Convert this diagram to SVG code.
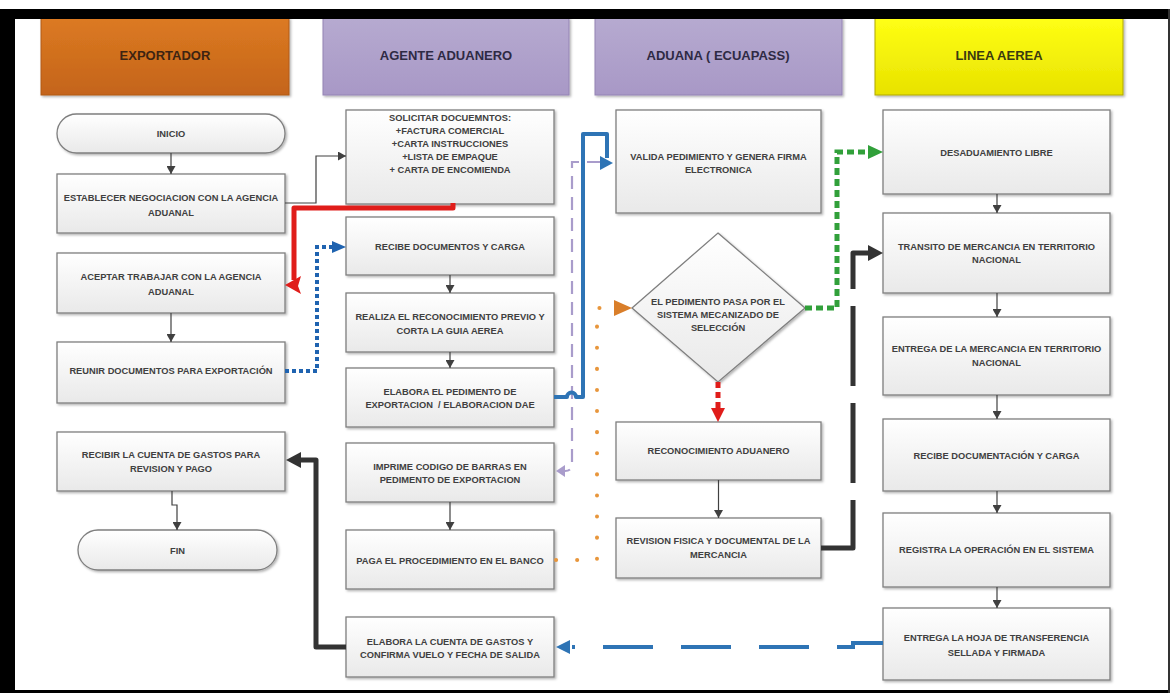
<svg xmlns="http://www.w3.org/2000/svg" width="1170" height="693" viewBox="0 0 1170 693">
<defs>
<linearGradient id="gBox" x1="0" y1="0" x2="0" y2="1"><stop offset="0" stop-color="#ffffff"/><stop offset="1" stop-color="#e9e9e9"/></linearGradient>
<linearGradient id="gOr" x1="0" y1="0" x2="0" y2="1"><stop offset="0" stop-color="#dc7a22"/><stop offset="1" stop-color="#c4641a"/></linearGradient>
<linearGradient id="gLav" x1="0" y1="0" x2="0" y2="1"><stop offset="0" stop-color="#b6aad0"/><stop offset="1" stop-color="#a898c6"/></linearGradient>
<linearGradient id="gYel" x1="0" y1="0" x2="0" y2="1"><stop offset="0" stop-color="#ffff14"/><stop offset="1" stop-color="#e8e200"/></linearGradient>
<filter id="sh" x="-10%" y="-10%" width="120%" height="130%"><feDropShadow dx="1.5" dy="1.5" stdDeviation="1" flood-color="#000" flood-opacity="0.3"/></filter>
<marker id="ah" markerUnits="userSpaceOnUse" markerWidth="9" markerHeight="9" refX="8" refY="4.5" orient="auto"><path d="M0,0 L8,4.5 L0,9 z" fill="#404040"/></marker>
<style>
.box{fill:url(#gBox);stroke:#7f7f7f;stroke-width:1.3;filter:url(#sh)}
.hd{stroke-width:1;filter:url(#sh)}
.t{font-family:"Liberation Sans",Arial,sans-serif;font-size:9.3px;font-weight:bold;fill:#404040;text-anchor:middle}
.h{font-family:"Liberation Sans",Arial,sans-serif;font-size:13px;font-weight:bold;text-anchor:middle}
.thin{fill:none;stroke:#404040;stroke-width:1.2;marker-end:url(#ah)}
</style>
</defs>
<rect x="0" y="0" width="1170" height="693" fill="#ffffff"/>

<g id="headers">
<g id="h-exportador"><rect class="hd" x="41" y="18" width="248" height="77" fill="url(#gOr)" stroke="#b05a18"/><text class="h" x="165" y="60" fill="#3d2412">EXPORTADOR</text></g>
<g id="h-agente"><rect class="hd" x="323" y="18" width="246" height="77" fill="url(#gLav)" stroke="#9484b4"/><text class="h" x="446" y="60" fill="#2e2a44">AGENTE ADUANERO</text></g>
<g id="h-aduana"><rect class="hd" x="595" y="18" width="247" height="77" fill="url(#gLav)" stroke="#9484b4"/><text class="h" x="718" y="60" fill="#2e2a44">ADUANA ( ECUAPASS)</text></g>
<g id="h-linea"><rect class="hd" x="875" y="18" width="248" height="77" fill="url(#gYel)" stroke="#b0a800"/><text class="h" x="999" y="60" fill="#3a3a10">LINEA AEREA</text></g>
</g>

<g id="n-inicio"><rect class="box" x="57" y="114" width="228" height="39" rx="19.5"/><text class="t" x="171" y="137">INICIO</text></g>
<g id="n-establecer"><rect class="box" x="57" y="174" width="228" height="59"/><text class="t" x="171" y="200.5">ESTABLECER NEGOCIACION CON LA AGENCIA</text><text class="t" x="171" y="215.5">ADUANAL</text></g>
<g id="n-aceptar"><rect class="box" x="57" y="253" width="228" height="60"/><text class="t" x="171" y="279.5">ACEPTAR TRABAJAR CON LA AGENCIA</text><text class="t" x="171" y="294.5">ADUANAL</text></g>
<g id="n-reunir"><rect class="box" x="57" y="342" width="228" height="61"/><text class="t" x="171" y="374">REUNIR DOCUMENTOS PARA EXPORTACIÓN</text></g>
<g id="n-recibir"><rect class="box" x="57" y="432" width="228" height="59"/><text class="t" x="171" y="458">RECIBIR LA CUENTA DE GASTOS PARA</text><text class="t" x="171" y="472">REVISION Y PAGO</text></g>
<g id="n-fin"><rect class="box" x="78" y="530" width="199" height="40" rx="20"/><text class="t" x="177.5" y="553.5">FIN</text></g>

<g id="n-solicitar"><rect class="box" x="346" y="110" width="208" height="94"/>
<text class="t" x="450" y="121">SOLICITAR DOCUEMNTOS:</text>
<text class="t" x="450" y="134">+FACTURA COMERCIAL</text>
<text class="t" x="450" y="147">+CARTA INSTRUCCIONES</text>
<text class="t" x="450" y="160">+LISTA DE EMPAQUE</text>
<text class="t" x="450" y="173">+ CARTA DE ENCOMIENDA</text></g>
<g id="n-recibe-docs"><rect class="box" x="346" y="217" width="208" height="58"/><text class="t" x="450" y="250">RECIBE DOCUMENTOS Y CARGA</text></g>
<g id="n-realiza"><rect class="box" x="346" y="293" width="208" height="59"/><text class="t" x="450" y="319.5">REALIZA EL RECONOCIMIENTO PREVIO Y</text><text class="t" x="450" y="333.5">CORTA LA GUIA AEREA</text></g>
<g id="n-elabora-ped"><rect class="box" x="346" y="368" width="208" height="59"/><text class="t" x="450" y="395">ELABORA EL PEDIMENTO DE</text><text class="t" x="450" y="408" xml:space="preserve">EXPORTACION  / ELABORACION DAE</text></g>
<g id="n-imprime"><rect class="box" x="346" y="443" width="208" height="59"/><text class="t" x="450" y="470">IMPRIME CODIGO DE BARRAS EN</text><text class="t" x="450" y="483">PEDIMENTO DE EXPORTACION</text></g>
<g id="n-paga"><rect class="box" x="346" y="530" width="208" height="59"/><text class="t" x="450" y="564">PAGA EL PROCEDIMIENTO EN EL BANCO</text></g>
<g id="n-elabora-cuenta"><rect class="box" x="346" y="617" width="208" height="60"/><text class="t" x="450" y="645">ELABORA LA CUENTA DE GASTOS Y</text><text class="t" x="450" y="658">CONFIRMA VUELO Y FECHA DE SALIDA</text></g>

<g id="n-valida"><rect class="box" x="616" y="110" width="205" height="103"/><text class="t" x="718.5" y="160">VALIDA PEDIMIENTO Y GENERA FIRMA</text><text class="t" x="718.5" y="173">ELECTRONICA</text></g>
<g id="n-decision"><polygon class="box" points="718,233 805,308 718,382 632,308"/><text class="t" x="718" y="305">EL PEDIMENTO PASA POR EL</text><text class="t" x="718" y="318">SISTEMA MECANIZADO DE</text><text class="t" x="718" y="331">SELECCIÓN</text></g>
<g id="n-reconocimiento"><rect class="box" x="616" y="422" width="205" height="58"/><text class="t" x="718.5" y="454">RECONOCIMIENTO ADUANERO</text></g>
<g id="n-revision"><rect class="box" x="616" y="518" width="205" height="60"/><text class="t" x="718.5" y="544">REVISION FISICA Y DOCUMENTAL DE LA</text><text class="t" x="718.5" y="558">MERCANCIA</text></g>

<g id="n-desaduamiento"><rect class="box" x="883" y="110" width="227" height="84"/><text class="t" x="996.5" y="156">DESADUAMIENTO LIBRE</text></g>
<g id="n-transito"><rect class="box" x="883" y="213" width="227" height="80"/><text class="t" x="996.5" y="250">TRANSITO DE MERCANCIA EN TERRITORIO</text><text class="t" x="996.5" y="263">NACIONAL</text></g>
<g id="n-entrega-merc"><rect class="box" x="883" y="317" width="227" height="78"/><text class="t" x="996.5" y="352">ENTREGA DE LA MERCANCIA EN TERRITORIO</text><text class="t" x="996.5" y="366">NACIONAL</text></g>
<g id="n-recibe-docum"><rect class="box" x="883" y="419" width="227" height="72"/><text class="t" x="996.5" y="459">RECIBE DOCUMENTACIÓN Y CARGA</text></g>
<g id="n-registra"><rect class="box" x="883" y="513" width="227" height="74"/><text class="t" x="996.5" y="553">REGISTRA LA OPERACIÓN EN EL SISTEMA</text></g>
<g id="n-entrega-hoja"><rect class="box" x="883" y="608" width="227" height="72"/><text class="t" x="996.5" y="641">ENTREGA LA HOJA DE TRANSFERENCIA</text><text class="t" x="996.5" y="656">SELLADA Y FIRMADA</text></g>

<g id="connectors">
<path class="thin" d="M171,153 V174"/>
<path class="thin" d="M171,313 V342"/>
<path class="thin" d="M172,491 V505 H177 V530"/>
<path class="thin" d="M285,203 H316 V156 H346"/>
<path class="thin" d="M450,275 V293"/>
<path class="thin" d="M450,352 V368"/>
<path class="thin" d="M450,502 V530"/>
<path class="thin" d="M718.5,480 V518"/>
<path class="thin" d="M997,194 V213"/>
<path class="thin" d="M997,293 V317"/>
<path class="thin" d="M997,395 V419"/>
<path class="thin" d="M997,491 V513"/>
<path class="thin" d="M997,587 V608"/>

<path d="M453,203 V208 H294 V280" fill="none" stroke="#e01d1a" stroke-width="5" stroke-linejoin="round"/>
<polygon points="285,285 301,276 298,286 301,294" fill="#e01d1a"/>

<path d="M285,371 H317 V247 H333" fill="none" stroke="#1f63b0" stroke-width="4" stroke-dasharray="4 3"/>
<polygon points="346,247 332,241 332,253" fill="#1f63b0"/>

<path d="M600,162 H572 V464 Q572,471 565,471 H562" fill="none" stroke="#a99ccb" stroke-width="2.2" stroke-dasharray="13 8"/>
<polygon points="556,471 565,465 565,477" fill="#a99ccb"/>

<path d="M554,397 H567 A4,4 0 0 1 576,397 H583 V134 H607 V158" fill="none" stroke="#2e74b5" stroke-width="4" stroke-linejoin="round"/>
<polygon points="613,163 600,156 600,170" fill="#2e74b5"/>

<path d="M556,560 H597 V308 H613" fill="none" stroke="#e8963c" stroke-width="4" stroke-linecap="round" stroke-dasharray="0.1 21"/>
<polygon points="632,308 614,300 614,316" fill="#d97e2a"/>

<path d="M805,308 H837 V152 H869" fill="none" stroke="#31a03a" stroke-width="5" stroke-dasharray="7 4"/>
<polygon points="883,152 868,145 868,159" fill="#31a03a"/>

<path d="M718,382 V408" fill="none" stroke="#e01d1a" stroke-width="5" stroke-dasharray="6 4"/>
<polygon points="718,422 711,408 725,408" fill="#e01d1a"/>

<path d="M821,548 H853 V253 H869" fill="none" stroke="#333333" stroke-width="5" stroke-dasharray="80 17" stroke-linejoin="round"/>
<polygon points="883,253 868,245 868,261" fill="#333333"/>

<path d="M346,647 H316 V460 H300" fill="none" stroke="#333333" stroke-width="5" stroke-linejoin="round"/>
<polygon points="286,460 301,452 301,468" fill="#333333"/>

<path d="M883,643 H853 V647 H572" fill="none" stroke="#2e74b5" stroke-width="4" stroke-dasharray="50 28"/>
<polygon points="556,647 570,640 570,654" fill="#2e74b5"/>
</g>

<g id="frame">
<rect x="0" y="9" width="1170" height="10" fill="#000"/>
<rect x="0" y="9" width="15" height="684" fill="#000"/>
<rect x="0" y="690" width="1170" height="3" fill="#000"/>
<rect x="1168" y="9" width="2" height="684" fill="#333"/>
</g>
</svg>
